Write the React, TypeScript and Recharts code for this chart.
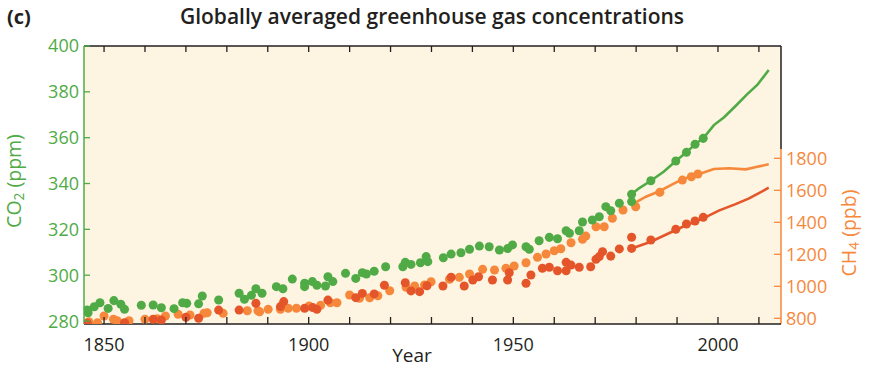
import React from "react";
import {
  CartesianGrid,
  ComposedChart,
  Line,
  ReferenceLine,
  Scatter,
  XAxis,
  YAxis
} from "recharts";

// axis ranges and ticks
const YEAR_MIN = 1845.1;
const YEAR_MAX = 2015.4;
const CO2_DOMAIN = [278.7, 400];
const CH4_DOMAIN = [764.4, 2502];
const N2O_DOMAIN = [269.2, 381];
const CH4_AXIS_TOP = 1858;

const decadeTicks = [1850, 1860, 1870, 1880, 1890, 1900, 1910, 1920, 1930, 1940, 1950, 1960, 1970, 1980, 1990, 2000, 2010];
const labelledYears = [1850, 1900, 1950, 2000];
const co2Ticks = [280, 300, 320, 340, 360, 380, 400];
const ch4Ticks = [800, 1000, 1200, 1400, 1600, 1800];

// ice core / firn records: [year, value]
const co2Cores: [number, number][] = [
  [1845.9, 284.8], [1846.1, 283.6], [1847.6, 286.2], [1849.0, 288.0], [1851.0, 285.5],
  [1852.4, 288.9], [1854.1, 287.3], [1855.0, 285.1], [1859.1, 286.9], [1862.0, 287.0],
  [1864.0, 285.8], [1867.1, 285.4], [1869.2, 288.0], [1870.2, 287.7], [1873.1, 287.5],
  [1874.0, 290.9], [1878.0, 289.2], [1883.0, 292.1], [1884.3, 289.5], [1886.0, 291.2],
  [1887.1, 294.1], [1888.6, 292.1], [1892.1, 295.0], [1893.7, 294.1], [1896.0, 298.3],
  [1899.0, 296.5], [1899.0, 295.0], [1900.9, 297.2], [1902.0, 295.6], [1904.1, 295.3],
  [1904.7, 299.3], [1905.9, 297.2], [1909.0, 300.8], [1911.5, 298.6], [1913.1, 301.1],
  [1914.1, 300.5], [1916.0, 301.7], [1918.8, 303.7], [1923.0, 303.7], [1923.6, 305.6],
  [1925.0, 304.7], [1927.3, 305.4], [1928.7, 308.1], [1929.1, 305.9], [1932.9, 307.6],
  [1934.8, 309.2], [1937.2, 309.8], [1939.3, 311.3], [1941.7, 312.7], [1944.1, 312.4],
  [1946.6, 311.0], [1948.6, 311.6], [1949.8, 313.2], [1953.1, 312.4], [1953.9, 311.3],
  [1956.3, 315.0], [1958.8, 316.5], [1960.8, 315.9], [1962.9, 319.4], [1963.7, 318.3],
  [1966.1, 319.4], [1966.9, 323.2], [1969.3, 324.1], [1971.0, 325.5], [1972.6, 329.9],
  [1973.8, 328.1], [1975.9, 331.4], [1978.9, 332.1], [1978.9, 335.3], [1983.6, 341.2],
  [1989.7, 349.8], [1992.3, 353.6], [1994.4, 357.1], [1996.4, 359.7]
];

const ch4Cores: [number, number][] = [
  [1846.3, 779], [1848.4, 772.5], [1850.0, 814], [1852.3, 794], [1853.2, 785],
  [1856.1, 785], [1860.0, 794], [1863.0, 797.5], [1865.0, 814], [1868.1, 825],
  [1871.0, 821], [1874.4, 831], [1875.2, 835], [1879.1, 831], [1885.0, 847.5],
  [1887.6, 847.5], [1888.0, 841], [1890.1, 856], [1893.1, 856], [1895.0, 862.5],
  [1897.0, 862.5], [1900.1, 877], [1902.9, 881], [1905.3, 897.5], [1906.9, 897.5],
  [1910.0, 945.6], [1912.4, 925], [1914.9, 928.8], [1916.9, 941], [1919.8, 972.5],
  [1923.8, 993.8], [1925.9, 1001.9], [1928.3, 1008], [1929.9, 1028.8], [1934.4, 1043.8],
  [1936.8, 1056], [1939.3, 1077], [1942.5, 1106], [1945.4, 1102], [1948.2, 1112.5],
  [1950.2, 1127], [1953.1, 1147.5], [1955.9, 1181], [1958.0, 1202], [1960.0, 1222.5],
  [1961.6, 1235], [1964.1, 1272.5], [1966.9, 1294], [1967.7, 1314], [1970.2, 1372.5],
  [1972.2, 1372.5], [1974.2, 1425], [1976.8, 1477], [1979.9, 1497.5], [1985.8, 1587.5],
  [1991.3, 1664], [1993.5, 1685], [1995.1, 1702]
];

const n2oCores: [number, number][] = [
  [1845.9, 269.5], [1855.0, 269.7], [1862.0, 271.1], [1864.0, 270.8], [1870.0, 271.9],
  [1873.1, 271.5], [1878.0, 274.8], [1883.0, 274.8], [1887.1, 277.5], [1893.1, 276.2],
  [1893.9, 278.2], [1899.0, 275.5], [1901.0, 275.8], [1902.0, 275.1], [1904.7, 278.8],
  [1911.5, 279.8], [1913.1, 281.5], [1916.0, 281.3], [1918.5, 284.8], [1923.6, 285.8],
  [1925.0, 282.5], [1927.1, 282.2], [1928.9, 284.6], [1932.8, 284.5], [1934.8, 288.0],
  [1938.0, 284.5], [1940.1, 286.9], [1941.5, 288.2], [1944.9, 286.9], [1948.6, 286.9],
  [1949.0, 289.8], [1953.1, 285.6], [1954.3, 288.9], [1957.1, 291.6], [1958.8, 292.0],
  [1960.8, 290.6], [1962.9, 290.6], [1962.9, 294.0], [1964.1, 292.9], [1966.1, 292.0],
  [1968.9, 292.2], [1970.2, 295.2], [1971.0, 296.3], [1971.8, 298.3], [1973.8, 296.5],
  [1975.9, 299.4], [1978.9, 304.1], [1978.9, 299.6], [1983.6, 303.0], [1989.7, 307.3],
  [1992.3, 309.4], [1994.4, 310.6], [1996.4, 312.1]
];

// atmospheric measurements
const co2Direct: [number, number][] = [
  [1978.9, 335.3], [1980.7, 337.9], [1983.6, 341.2], [1986.8, 345.2], [1989.7, 349.8],
  [1992.3, 353.6], [1994.4, 357.1], [1996.4, 359.7], [1999.0, 365.5], [2001.5, 368.9],
  [2004.3, 373.8], [2007.1, 378.9], [2009.6, 383.0], [2012.4, 389.5]
];

const ch4Direct: [number, number][] = [
  [1979.5, 1518.8], [1982.4, 1560], [1985.8, 1595.6], [1988.5, 1633], [1991.3, 1668.8],
  [1995.4, 1702], [1999.0, 1733], [2002.7, 1737.5], [2006.8, 1731], [2009.6, 1747.5],
  [2012.4, 1762.5]
];

const n2oDirect: [number, number][] = [
  [1978.9, 299.6], [1983.6, 302.3], [1989.7, 307.0], [1992.3, 309.0], [1996.4, 311.7],
  [2000.2, 314.8], [2004.3, 317.4], [2007.6, 319.7], [2010.0, 321.8], [2012.4, 324.0]
];

const GREEN = "#50AB46";
const ORANGE = "#F6883B";
const RED = "#E4552A";
const INK = "#231F20";
const PAPER = "#FDF4E1";
const FONT = "'Open Sans', 'Noto Sans', sans-serif";
const TICK_SIZE = 18;

const toRows = (pairs: [number, number][]) => pairs.map(([year, value]) => ({ year, value }));

const LeftTick = ({ x, y, payload }: any) => (
  <g>
    <line x1={x} x2={x + 6} y1={y} y2={y} stroke={GREEN} strokeWidth={1.3} />
    <text x={x - 5} y={y} dy="0.36em" textAnchor="end" fill={GREEN} fontSize={TICK_SIZE} fontWeight={500} fontFamily={FONT}>
      {payload.value}
    </text>
  </g>
);

const RightTick = ({ x, y, payload }: any) => (
  <g>
    <line x1={x - 7} x2={x} y1={y} y2={y} stroke={ORANGE} strokeWidth={1.3} />
    <text x={x + 5} y={y} dy="0.36em" textAnchor="start" fill={ORANGE} fontSize={TICK_SIZE} fontWeight={500} fontFamily={FONT}>
      {payload.value}
    </text>
  </g>
);

const BottomTick = ({ x, y, payload }: any) => (
  <g>
    <line x1={x} x2={x} y1={y} y2={y - 7} stroke={INK} strokeWidth={1.3} />
    {labelledYears.includes(payload.value) ? (
      <text x={x} y={y + 27} textAnchor="middle" fill={INK} fontSize={TICK_SIZE} fontWeight={500} fontFamily={FONT}>
        {payload.value}
      </text>
    ) : null}
  </g>
);

const TopTick = ({ x, y }: any) => (
  <line x1={x} x2={x} y1={y} y2={y + 6} stroke={INK} strokeWidth={1.3} />
);

export default function App() {
  return (
    <div
      style={{
        position: "absolute",
        left: 0,
        top: 0,
        width: 880,
        height: 373,
        background: "#fff",
        fontFamily: FONT
      }}
    >
      <div style={{ position: "absolute", left: 7, top: 3, fontSize: 20, fontWeight: 700, color: INK }}>(c)</div>
      <div
        style={{
          position: "absolute",
          left: 432,
          top: 2,
          transform: "translateX(-50%)",
          whiteSpace: "nowrap",
          fontSize: 21,
          fontWeight: 600,
          color: INK
        }}
      >
        Globally averaged greenhouse gas concentrations
      </div>

      <ComposedChart width={880} height={373} margin={{ top: 45, right: 0, bottom: 0, left: 0 }}>
        <CartesianGrid xAxisId="bottom" yAxisId="co2" fill={PAPER} horizontal={false} vertical={false} />
        <XAxis
          xAxisId="bottom"
          type="number"
          dataKey="year"
          domain={[YEAR_MIN, YEAR_MAX]}
          allowDataOverflow
          ticks={decadeTicks}
          interval={0}
          height={49}
          tickSize={0}
          tickMargin={0}
          tickLine={false}
          tick={<BottomTick />}
          axisLine={{ stroke: INK, strokeWidth: 1.5 }}
        />
        <XAxis
          xAxisId="top"
          orientation="top"
          type="number"
          dataKey="year"
          domain={[YEAR_MIN, YEAR_MAX]}
          allowDataOverflow
          ticks={decadeTicks}
          interval={0}
          height={1}
          tickSize={0}
          tickMargin={0}
          tickLine={false}
          tick={<TopTick />}
          axisLine={{ stroke: INK, strokeWidth: 1.5 }}
        />
        <YAxis
          yAxisId="co2"
          orientation="left"
          type="number"
          width={84}
          domain={CO2_DOMAIN}
          allowDataOverflow
          ticks={co2Ticks}
          interval={0}
          tickSize={0}
          tickMargin={0}
          tickLine={false}
          tick={<LeftTick />}
          axisLine={{ stroke: GREEN, strokeWidth: 1.5 }}
        />
        <YAxis
          yAxisId="ch4"
          orientation="right"
          type="number"
          width={99}
          domain={CH4_DOMAIN}
          allowDataOverflow
          ticks={ch4Ticks}
          interval={0}
          tickSize={0}
          tickMargin={0}
          tickLine={false}
          tick={<RightTick />}
          axisLine={false}
        />
        <YAxis yAxisId="n2o" hide type="number" domain={N2O_DOMAIN} allowDataOverflow />

        <ReferenceLine
          xAxisId="bottom"
          yAxisId="ch4"
          segment={[{ x: YEAR_MAX, y: CH4_DOMAIN[0] }, { x: YEAR_MAX, y: CH4_AXIS_TOP }]}
          stroke={ORANGE}
          strokeWidth={1.5}
          ifOverflow="visible"
        />
        <ReferenceLine
          xAxisId="bottom"
          yAxisId="ch4"
          segment={[{ x: YEAR_MAX, y: CH4_AXIS_TOP }, { x: YEAR_MAX, y: CH4_DOMAIN[1] }]}
          stroke={INK}
          strokeWidth={1.5}
          ifOverflow="visible"
        />

        <Scatter xAxisId="bottom" yAxisId="ch4" data={toRows(ch4Cores)} dataKey="value" fill={ORANGE} isAnimationActive={false} />
        <Scatter xAxisId="bottom" yAxisId="n2o" data={toRows(n2oCores)} dataKey="value" fill={RED} isAnimationActive={false} />
        <Scatter xAxisId="bottom" yAxisId="co2" data={toRows(co2Cores)} dataKey="value" fill={GREEN} isAnimationActive={false} />

        <Line xAxisId="bottom" yAxisId="ch4" data={toRows(ch4Direct)} dataKey="value" type="linear" stroke={ORANGE} strokeWidth={2.6} dot={false} isAnimationActive={false} />
        <Line xAxisId="bottom" yAxisId="n2o" data={toRows(n2oDirect)} dataKey="value" type="linear" stroke={RED} strokeWidth={2.6} dot={false} isAnimationActive={false} />
        <Line xAxisId="bottom" yAxisId="co2" data={toRows(co2Direct)} dataKey="value" type="linear" stroke={GREEN} strokeWidth={2.6} dot={false} isAnimationActive={false} />
      </ComposedChart>

      <div
        style={{
          position: "absolute",
          left: 15,
          top: 181,
          transform: "translate(-50%, -50%) rotate(-90deg)",
          whiteSpace: "nowrap",
          fontSize: 19.5,
          color: GREEN,
          lineHeight: 1
        }}
      >
        CO<sub style={{ fontSize: "0.7em", verticalAlign: "-0.25em" }}>2</sub> (ppm)
      </div>
      <div
        style={{
          position: "absolute",
          left: 850,
          top: 233,
          transform: "translate(-50%, -50%) rotate(-90deg)",
          whiteSpace: "nowrap",
          fontSize: 19.5,
          color: ORANGE,
          lineHeight: 1
        }}
      >
        CH<sub style={{ fontSize: "0.7em", verticalAlign: "-0.25em" }}>4</sub> (ppb)
      </div>
      <div
        style={{
          position: "absolute",
          left: 412,
          top: 346,
          transform: "translateX(-50%)",
          fontSize: 19,
          color: INK,
          lineHeight: 1
        }}
      >
        Year
      </div>
    </div>
  );
}
